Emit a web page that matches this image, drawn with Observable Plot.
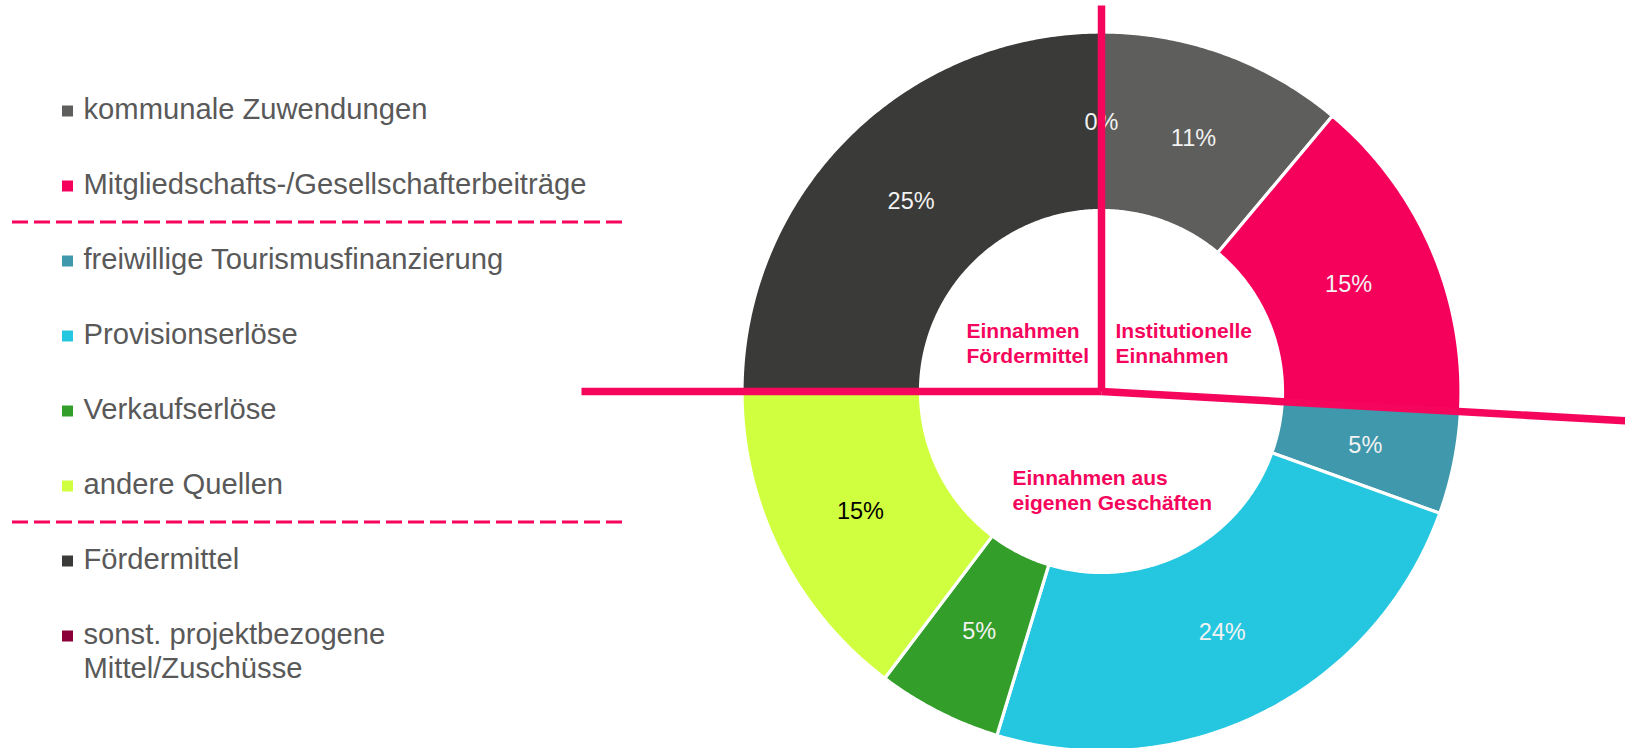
<!DOCTYPE html>
<html>
<head>
<meta charset="utf-8">
<script src="https://cdn.jsdelivr.net/npm/d3@7"></script>
<script src="https://cdn.jsdelivr.net/npm/@observablehq/plot@0.6"></script>
<style>
  html, body { margin: 0; padding: 0; background: #ffffff; overflow: hidden; }
  #chart svg { display: block; }
</style>
</head>
<body>
<div id="chart"></div>
<script>
// ---- data ----
const categories = [
  "kommunale Zuwendungen",
  "Mitgliedschafts-/Gesellschafterbeiträge",
  "freiwillige Tourismusfinanzierung",
  "Provisionserlöse",
  "Verkaufserlöse",
  "andere Quellen",
  "Fördermittel",
  "sonst. projektbezogene\nMittel/Zuschüsse"
];
const shares = [11.1, 14.8, 4.6, 24.2, 5.6, 14.7, 25.0, 0.0];
const percentLabels = ["11%", "15%", "5%", "24%", "5%", "15%", "25%", "0%"];
const colors = ["#5e5e5c", "#f5005a", "#3f98ac", "#25c7e0", "#339f2a", "#d0ff3f", "#3a3a38", "#8b0038"];
const groupLabels = ["Einnahmen\nFördermittel", "Institutionelle\nEinnahmen", "Einnahmen aus\neigenen Geschäften"];
const legendBreaksAfter = [1, 5];

// ---- geometry (layout only) ----
const W = 1625, H = 748;
const cx = 1101, cy = 391;
const R = 359.5, r = 181;
const mid = (R + r) / 2 - 1;
const PINK = "#f5055c";

// slice outlines
const slicePts = [];
const labelPts = [];
let acc = 0;
categories.forEach((cat, i) => {
  const a0 = acc / 100 * 2 * Math.PI;
  acc += shares[i];
  const a1 = acc / 100 * 2 * Math.PI;
  const am = (a0 + a1) / 2;
  labelPts.push({cat, label: percentLabels[i], color: colors[i],
    x: cx + mid * Math.sin(am), y: cy - mid * Math.cos(am)});
  if (shares[i] <= 0) return;
  const n = Math.max(2, Math.ceil((a1 - a0) / (Math.PI / 360)));
  const pts = [];
  for (let k = 0; k <= n; k++) {
    const a = a0 + (a1 - a0) * k / n;
    pts.push({cat, x: cx + R * Math.sin(a), y: cy - R * Math.cos(a)});
  }
  for (let k = n; k >= 0; k--) {
    const a = a0 + (a1 - a0) * k / n;
    pts.push({cat, x: cx + r * Math.sin(a), y: cy - r * Math.cos(a)});
  }
  pts.push(pts[0]);
  slicePts.push(...pts);
});

// divider lines (annotation): angle clockwise from top, length from centre
const dividerGeom = [
  {angle: 0, length: 386},
  {angle: 93.2, length: 525},
  {angle: 270, length: 520}
].map(d => {
  const a = d.angle * Math.PI / 180;
  return {x1: cx, y1: cy, x2: cx + d.length * Math.sin(a), y2: cy - d.length * Math.cos(a)};
});

// group label anchors (relative to centre)
const groupPos = [
  {x: cx - 135, y: cy - 29},
  {x: cx + 14, y: cy - 29},
  {x: cx - 89, y: cy + 118}
];
const groupData = groupLabels.map((t, i) => ({text: t, ...groupPos[i]}));

// legend layout
const rowY = i => 110 + 75 * i;
const legendData = categories.map((c, i) => ({cat: c, y: rowY(i)}));
const breakData = legendBreaksAfter.map(i => ({y: (rowY(i) + rowY(i + 1)) / 2 - 1}));

const font = "'Liberation Sans', Arial, Helvetica, sans-serif";

const chart = Plot.plot({
  width: W,
  height: H,
  margin: 0,
  x: {domain: [0, W], range: [0, W], axis: null},
  y: {domain: [0, H], range: [0, H], axis: null},
  color: {domain: categories, range: colors},
  style: {fontFamily: font, background: "#ffffff"},
  marks: [
    // donut slices
    Plot.line(slicePts, {x: "x", y: "y", z: "cat", fill: "cat", stroke: "#ffffff", strokeWidth: 3.2, curve: "linear"}),
    // percentage labels
    Plot.text(labelPts, {
      x: "x", y: "y", text: "label",
      fill: d => d3.lab(d.color).l > 85 ? "#000000" : "#f2f2f2",
      fontSize: 23.5, fontFamily: font
    }),
    // pink dividers
    Plot.link(dividerGeom, {x1: "x1", y1: "y1", x2: "x2", y2: "y2", stroke: PINK, strokeWidth: 7.5, strokeLinecap: "butt"}),
    // group labels
    Plot.text(groupData, {
      x: "x", y: "y", text: "text", textAnchor: "start",
      lineAnchor: "bottom", lineHeight: 1.19,
      fill: PINK, fontWeight: "bold", fontSize: 21, fontFamily: font
    }),
    // legend
    Plot.dot(legendData, {x: 67, y: d => d.y + 0.5, fill: "cat", symbol: "square", r: 6.2, stroke: null}),
    Plot.text(legendData, {
      x: 83, y: "y", text: "cat", textAnchor: "start",
      lineAnchor: "top", lineHeight: 1.17, dy: -16,
      fill: "#595959", fontSize: 29.2, fontFamily: font
    }),
    Plot.ruleY(breakData, {y: "y", x1: 12, x2: 622, stroke: PINK, strokeWidth: 2.8, strokeDasharray: "16,6"})
  ]
});

document.getElementById("chart").appendChild(chart);
</script>
</body>
</html>
